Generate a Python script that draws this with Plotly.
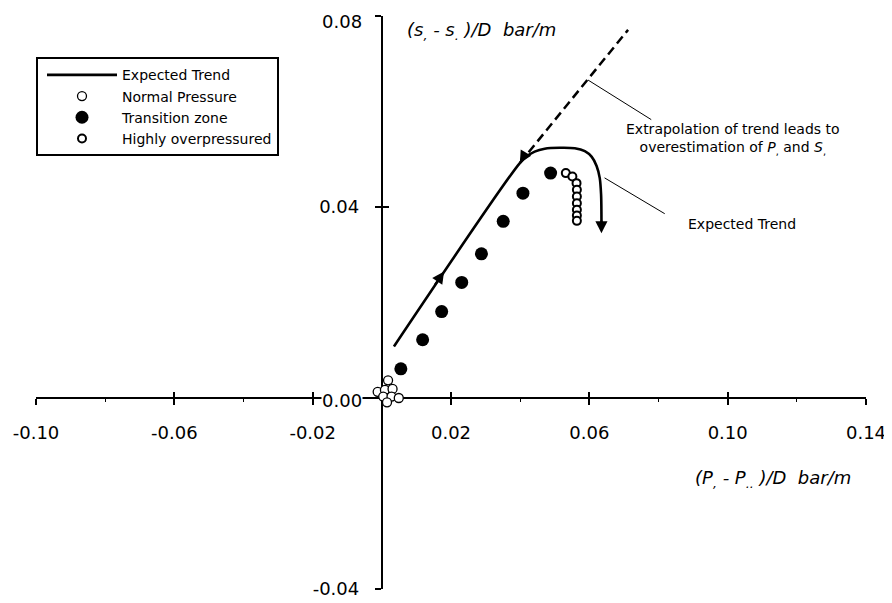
import plotly.graph_objects as go

# ---------------- data ----------------
normal_x = [0.0018, -0.0012, 0.0009, 0.0031, 0.0004, 0.0028, 0.0049, 0.0015]
normal_y = [0.0037, 0.0013, 0.0017, 0.0019, 0.0003, 0.0003, 0.0000, -0.0009]

transition_x = [0.0055, 0.0118, 0.0173, 0.0231, 0.0288, 0.0351, 0.0408, 0.0488]
transition_y = [0.0061, 0.0122, 0.0181, 0.0242, 0.0302, 0.0370, 0.0429, 0.0471]

over_x = [0.0532, 0.0551, 0.0563, 0.0564, 0.0564, 0.0564, 0.0564, 0.0564, 0.0564]
over_y = [0.0471, 0.0464, 0.0450, 0.0436, 0.0422, 0.0408, 0.0394, 0.0382, 0.0371]

trend_x = [0.0035, 0.0399, 0.0419, 0.0442, 0.0471, 0.0514, 0.0558, 0.0587,
           0.0607, 0.0621, 0.0630, 0.0634, 0.0635, 0.0635]
trend_y = [0.0108, 0.0492, 0.0506, 0.0516, 0.0522, 0.0524, 0.0523, 0.0517,
           0.0505, 0.0486, 0.0461, 0.0426, 0.0384, 0.0360]

extrap_x = [0.0399, 0.0712]
extrap_y = [0.0492, 0.0771]

leader1_x = [0.0596, 0.0779]
leader1_y = [0.0666, 0.0583]
leader2_x = [0.0644, 0.0818]
leader2_y = [0.0461, 0.0386]

# arrowheads along the trend: (head_x, head_y, tail_x, tail_y)
arrow_heads = [
    (0.0180, 0.0265, 0.0150, 0.0233),
    (0.0635, 0.0345, 0.0635, 0.0375),
    (0.0399, 0.0492, 0.0412, 0.0508),
]

x_ticks = [-0.10, -0.06, -0.02, 0.02, 0.06, 0.10, 0.14]
x_minor = [-0.08, -0.04, 0.04, 0.08, 0.12]
y_ticks = [-0.04, 0.04, 0.08]
y_label_annot = [0.00, 0.08]          # y labels written as boxed annotations
x_range = [-0.10, 0.14]
y_range = [-0.04, 0.08]

FONT = "DejaVu Sans"

fig = go.Figure()

fig.add_trace(go.Scatter(x=extrap_x, y=extrap_y, mode="lines",
                         line=dict(color="black", width=2.5, dash="9px,5px"),
                         showlegend=False, hoverinfo="skip"))
for lx, ly in [(leader1_x, leader1_y), (leader2_x, leader2_y)]:
    fig.add_trace(go.Scatter(x=lx, y=ly, mode="lines",
                             line=dict(color="black", width=1),
                             showlegend=False, hoverinfo="skip"))

fig.add_trace(go.Scatter(x=trend_x, y=trend_y, mode="lines", name="Expected Trend",
                         line=dict(color="black", width=2.6, shape="spline", smoothing=0.9)))
fig.add_trace(go.Scatter(x=normal_x, y=normal_y, mode="markers", name="Normal Pressure",
                         marker=dict(symbol="circle", size=9, color="white",
                                     line=dict(color="black", width=1.3))))
fig.add_trace(go.Scatter(x=transition_x, y=transition_y, mode="markers", name="Transition zone",
                         marker=dict(symbol="circle", size=13, color="black",
                                     line=dict(color="black", width=0))))
fig.add_trace(go.Scatter(x=over_x, y=over_y, mode="markers", name="Highly overpressured",
                         marker=dict(symbol="circle", size=8, color="white",
                                     line=dict(color="black", width=2))))

# overlay axes for the crossing tick marks
fig.add_trace(go.Scatter(x=[None], y=[None], xaxis="x2", yaxis="y2",
                         showlegend=False, hoverinfo="skip"))

annotations = []
for hx, hy, tx, ty in arrow_heads:
    annotations.append(dict(x=hx, y=hy, ax=tx, ay=ty, xref="x", yref="y",
                            axref="x", ayref="y", text="", showarrow=True,
                            arrowhead=2, arrowsize=1.1, arrowwidth=2.2,
                            arrowcolor="black"))

for v in y_label_annot:
    annotations.append(dict(x=0, y=v, xref="x", yref="y", text=f"{v:.2f}", showarrow=False,
                            xanchor="right", yanchor="middle", xshift=-19,
                            yshift=-2 if v == 0 else -5,
                            bgcolor="white" if v == 0 else "rgba(0,0,0,0)", borderpad=0,
                            font=dict(family=FONT, size=18, color="black")))

annotations += [
    dict(x=0.0066, y=0.0769, xref="x", yref="y", xanchor="left", yanchor="middle",
         text="<i>(s<sub>,</sub> - s<sub>.</sub>\u00a0)/D\u00a0\u00a0bar/m</i>", showarrow=False,
         font=dict(family=FONT, size=18, color="black")),
    dict(x=0.0899, y=-0.0169, xref="x", yref="y", xanchor="left", yanchor="middle",
         text="<i>(P<sub>,</sub> - P<sub>..</sub>\u00a0)/D\u00a0\u00a0bar/m</i>", showarrow=False,
         font=dict(family=FONT, size=18, color="black")),
    dict(x=0.1015, y=0.0543, xref="x", yref="y", xanchor="center", yanchor="middle",
         align="center",
         text="Extrapolation of trend leads to<br>overestimation of <i>P</i><sub>,</sub> and <i>S</i><sub>,</sub>",
         showarrow=False, font=dict(family=FONT, size=14, color="black")),
    dict(x=0.1040, y=0.0365, xref="x", yref="y", xanchor="center", yanchor="middle",
         text="Expected Trend", showarrow=False,
         font=dict(family=FONT, size=14, color="black")),
]

axis_common = dict(showgrid=False, zeroline=False, color="black", automargin=False)

# the page body adds an 8px offset, so the figure is 8px smaller than the window
fig.update_layout(
    width=884, height=595,
    margin=dict(l=28, r=26, t=8, b=14, autoexpand=False),
    paper_bgcolor="white", plot_bgcolor="white",
    font=dict(family=FONT, size=18, color="black"),
    xaxis=dict(range=x_range, anchor="free", position=1/3,
               tickmode="array", tickvals=x_ticks,
               ticktext=[f"{v:.2f}" for v in x_ticks],
               showline=True, linecolor="black", linewidth=2,
               ticks="outside", ticklen=6, tickwidth=1.5, tickcolor="black",
               ticklabelstandoff=12, ticklabeloverflow="allow", layer="below traces",
               minor=dict(tickmode="array", tickvals=x_minor, ticks="outside",
                          ticklen=3, tickwidth=1, tickcolor="black"),
               tickfont=dict(family=FONT, size=18, color="black"),
               **axis_common),
    yaxis=dict(range=y_range, anchor="free", position=0.1/0.24,
               tickmode="array", tickvals=y_ticks,
               ticktext=["" if v in y_label_annot else f"{v:.2f}" for v in y_ticks],
               showline=True, linecolor="black", linewidth=2,
               ticks="outside", ticklen=6, tickwidth=1.5, tickcolor="black",
               ticklabelstandoff=12, ticklabeloverflow="allow", layer="below traces",
               tickfont=dict(family=FONT, size=18, color="black"),
               **axis_common),
    xaxis2=dict(range=x_range, overlaying="x", anchor="free", position=1/3,
                tickmode="array", tickvals=x_ticks, showticklabels=False,
                showline=False, ticks="inside", ticklen=6, tickwidth=1.5,
                tickcolor="black", layer="below traces", **axis_common),
    yaxis2=dict(range=y_range, overlaying="y", anchor="free", position=0.1/0.24,
                tickmode="array", tickvals=y_ticks, showticklabels=False,
                showline=False, ticks="inside", ticklen=6, tickwidth=1.5,
                tickcolor="black", layer="below traces", **axis_common),
    legend=dict(x=0.0, y=0.928, xanchor="left", yanchor="top",
                bgcolor="white", bordercolor="black", borderwidth=2,
                font=dict(family=FONT, size=14, color="black"),
                itemwidth=70, tracegroupgap=0, indentation=4),
    annotations=annotations,
    showlegend=True,
)

fig.write_html("out.html")
